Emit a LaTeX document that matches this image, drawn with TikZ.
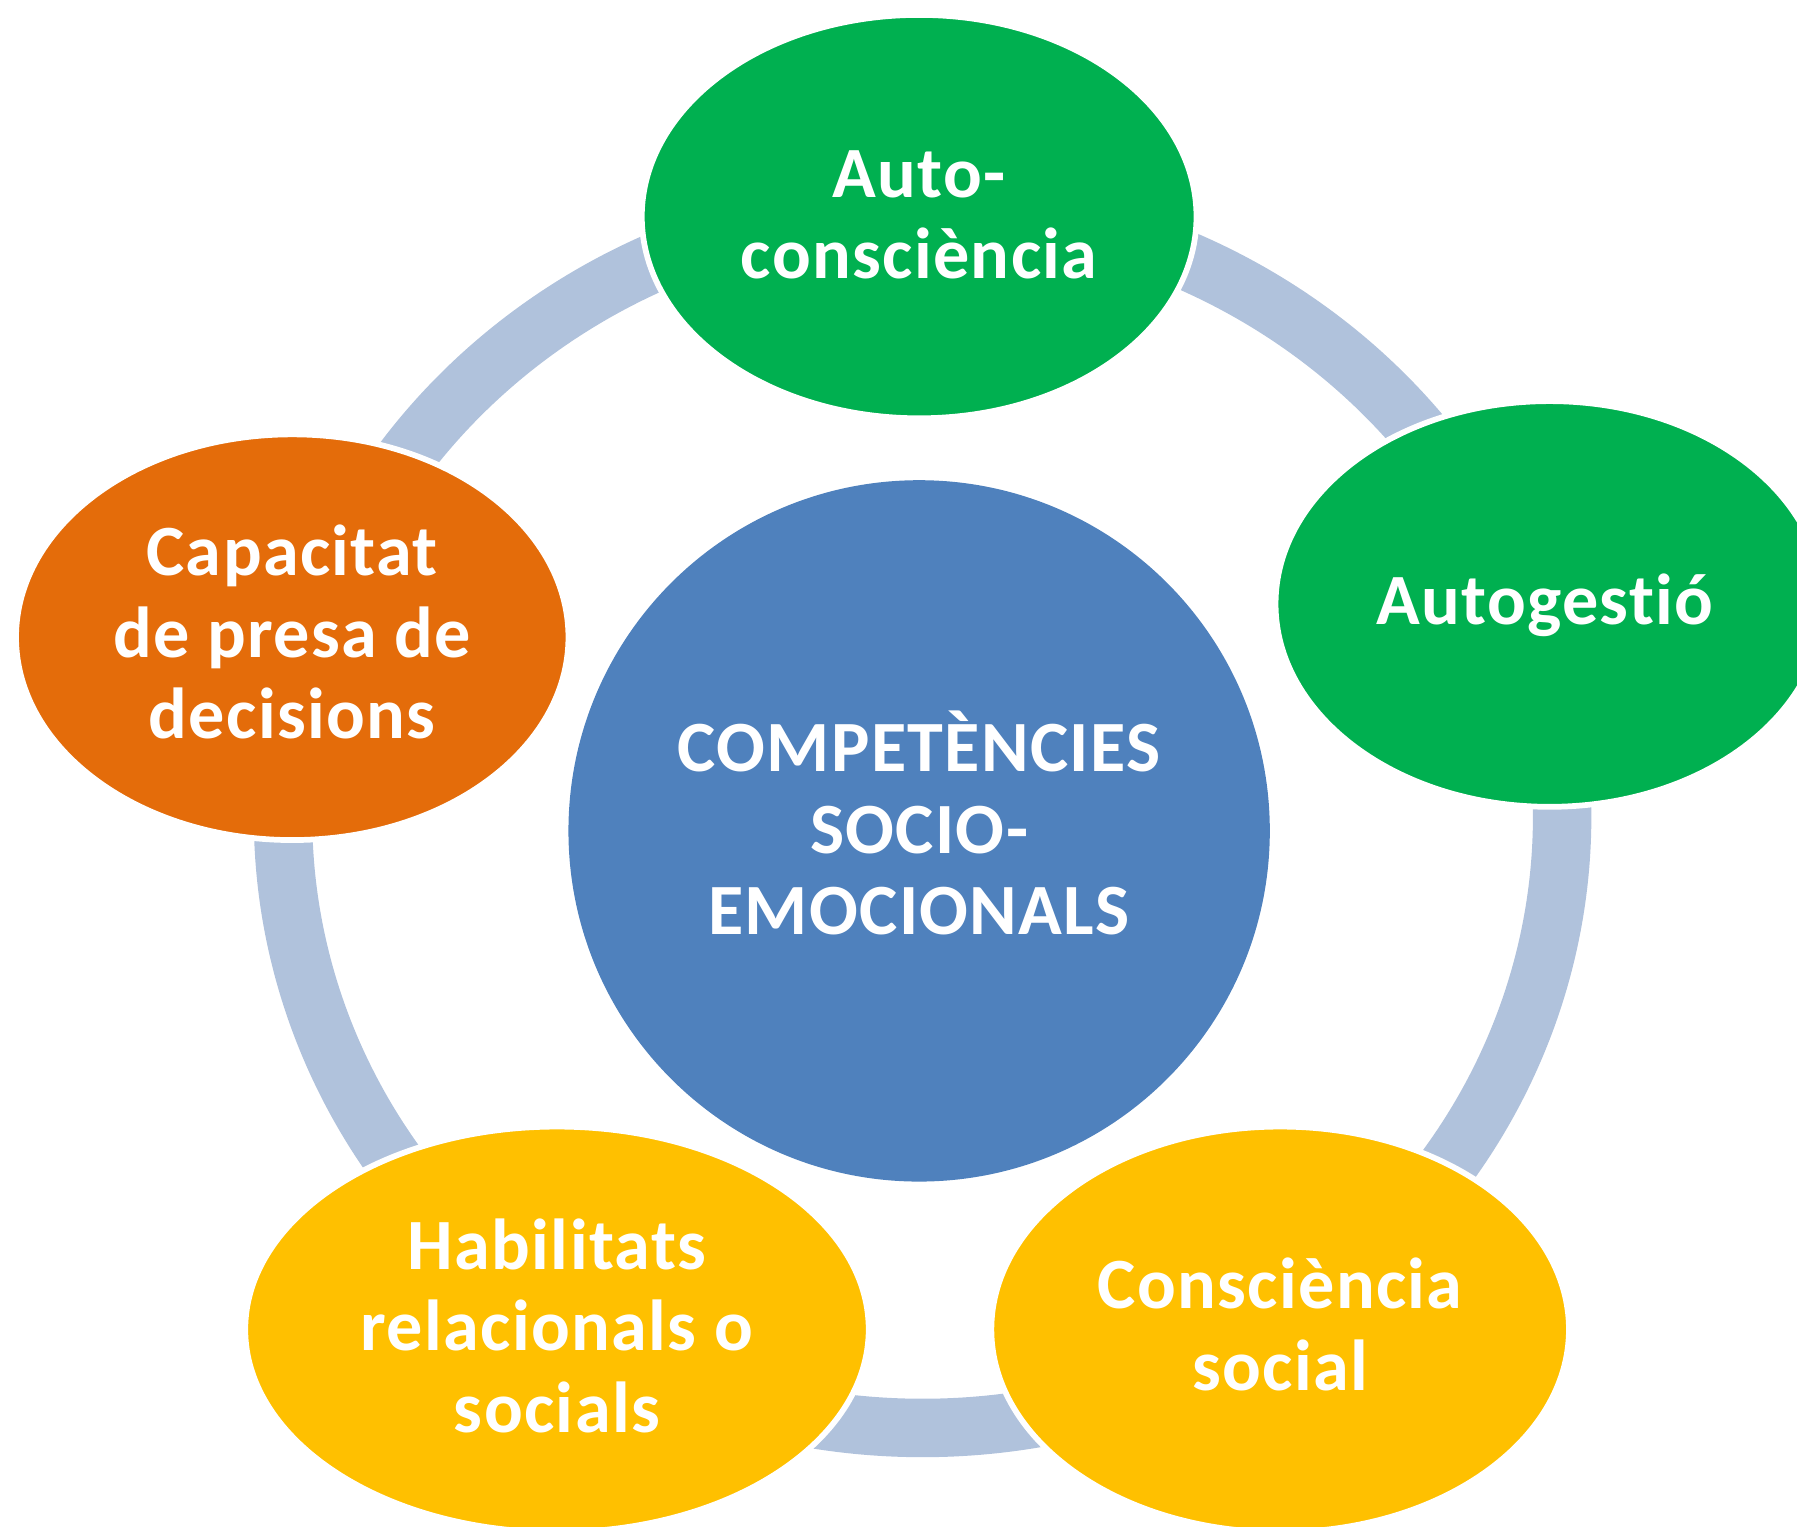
\documentclass[tikz,border=0pt]{standalone}
\usepackage{fontspec}
\setmainfont{Carlito}[Ligatures=NoCommon,LetterSpace=1.9]
\usetikzlibrary{shapes.geometric,backgrounds}
\definecolor{cgreen}{HTML}{00B050}
\definecolor{corange}{HTML}{E46C0A}
\definecolor{cgold}{HTML}{FFC000}
\definecolor{cblue}{HTML}{4F81BD}
\definecolor{ringc}{HTML}{B0C2DC}
\newcommand\lnst{\rule[-21pt]{0pt}{71pt}}
\begin{document}
\begin{tikzpicture}[x=1pt,y=-1pt,
  bubble/.style={ellipse, inner sep=0pt, draw=white, line width=5pt},
  lbl/.style={text=white, font=\fontsize{63}{71}\selectfont\bfseries, align=center, inner sep=0pt},
  ringarc/.style={draw=ringc, line width=51pt},
  rarc/.style={x radius=558pt, y radius=533pt}]
\useasboundingbox (0,0) rectangle (1568,1332);
\coordinate (ring) at (805,713);
% central circle
\node[circle, fill=cblue, minimum size=612pt, inner sep=0pt] (c) at (802,725) {};
% outer bubbles
\node[bubble, fill=cgreen, minimum width=484pt, minimum height=352pt] (e1) at (802,189) {};
\node[bubble, fill=cgreen, minimum width=478pt, minimum height=354pt] (e2) at (1352,527) {};
\node[bubble, fill=cgold, minimum width=504pt, minimum height=354pt] (e3) at (1117,1160) {};
\node[bubble, fill=cgold, minimum width=544pt, minimum height=354pt] (e4) at (486,1160) {};
\node[bubble, fill=corange, minimum width=482pt, minimum height=354pt] (e5) at (255,556) {};
% ring arcs
\begin{scope}[on background layer]
\draw[ringarc] (ring) ++(90:558pt and 533pt) arc[start angle=90, end angle=20, rarc];
\draw[ringarc] (ring) ++(20:558pt and 533pt) arc[start angle=20, end angle=-56, rarc];
\draw[ringarc] (ring) ++(-56:558pt and 533pt) arc[start angle=-56, end angle=-124, rarc];
\draw[ringarc] (ring) ++(-124:558pt and 533pt) arc[start angle=-124, end angle=-197, rarc];
\draw[ringarc] (ring) ++(163:558pt and 533pt) arc[start angle=163, end angle=90, rarc];
\end{scope}
% labels
\node[lbl] (tc) at (802,728.5) {\lnst COMPETÈNCIES\\\lnst SOCIO-\\\lnst EMOCIONALS};
\node[lbl] (t1) at (802,193) {\lnst Auto-\\\lnst consciència};
\node[lbl] (t2) at (1348,530.5) {\lnst Autogestió};
\node[lbl] (t3) at (1117,1163) {\lnst Consciència\\\lnst social};
\node[lbl] (t4) at (486,1164) {\lnst Habilitats\\\lnst relacionals o\\\lnst socials};
\node[lbl] (t5) at (255,559) {\lnst Capacitat\\\lnst de presa de\\\lnst decisions};
\end{tikzpicture}
\end{document}
